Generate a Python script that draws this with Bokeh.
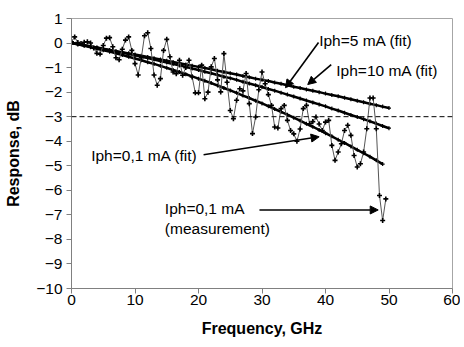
from bokeh.plotting import figure
from bokeh.models import Range1d, FixedTicker, Span, Arrow, NormalHead, Label
from bokeh.embed import file_html
from bokeh.resources import INLINE

# ---- data ----
meas_freq = [i * 0.5 for i in range(100)]  # GHz, 0 .. 49.5
meas_db = [0.05, 0.25, 0.02, -0.02, 0.03, 0.05, 0.0, -0.2, -0.42, -0.45,
           -0.1, 0.2, 0.22, -0.15, -0.6, -0.68, -0.25, 0.12, 0.25, -0.3,
           -0.84, -1.3, -0.6, 0.3, 0.42, -0.22, -1.3, -1.72, -1.45, -0.3,
           0.15, -0.56, -1.18, -1.25, -0.7, -1.31, -1.0, -0.7, -1.38, -2.03,
           -2.03, -0.9, -2.27, -2.0, -0.97, -0.63, -1.5, -1.99, -0.43, -1.6,
           -2.75, -3.08, -2.33, -1.86, -1.95, -1.24, -2.47, -3.69, -3.01, -1.9,
           -1.18, -1.66, -2.1, -2.54, -3.42, -3.46, -2.67, -2.54, -3.15, -3.56,
           -3.7, -4.0, -3.5, -2.67, -2.54, -3.29, -3.2, -3.01, -3.3, -3.56,
           -3.22, -3.15, -4.17, -4.78, -4.44, -4.1, -3.56, -3.35, -3.76, -4.58,
           -5.05, -4.92, -4.44, -3.49, -2.24, -2.24, -3.49, -6.21, -7.23, -6.35]

fit_freq = list(range(51))
fit10_db = [0, -0.05, -0.09, -0.14, -0.18, -0.23, -0.28, -0.33, -0.37, -0.42,
            -0.47, -0.52, -0.57, -0.62, -0.67, -0.72, -0.77, -0.82, -0.87, -0.92,
            -0.97, -1.02, -1.07, -1.13, -1.18, -1.23, -1.28, -1.34, -1.39, -1.45,
            -1.50, -1.55, -1.61, -1.66, -1.72, -1.78, -1.83, -1.89, -1.94, -2.00,
            -2.06, -2.12, -2.17, -2.23, -2.29, -2.35, -2.41, -2.47, -2.53, -2.59, -2.65]
fit5_db = [0, -0.05, -0.09, -0.14, -0.19, -0.24, -0.29, -0.34, -0.39, -0.45,
           -0.50, -0.56, -0.61, -0.67, -0.73, -0.79, -0.85, -0.91, -0.97, -1.04,
           -1.10, -1.17, -1.23, -1.30, -1.37, -1.43, -1.50, -1.58, -1.65, -1.72,
           -1.79, -1.87, -1.94, -2.02, -2.10, -2.18, -2.26, -2.34, -2.42, -2.50,
           -2.58, -2.67, -2.75, -2.84, -2.93, -3.01, -3.10, -3.19, -3.28, -3.38, -3.47]
fit01_freq = list(range(50))
fit01_db = [0, -0.05, -0.11, -0.17, -0.23, -0.29, -0.35, -0.42, -0.49, -0.56,
            -0.63, -0.70, -0.78, -0.85, -0.93, -1.01, -1.10, -1.18, -1.27, -1.36,
            -1.45, -1.54, -1.63, -1.73, -1.83, -1.93, -2.03, -2.14, -2.24, -2.35,
            -2.46, -2.57, -2.69, -2.80, -2.92, -3.04, -3.16, -3.29, -3.41, -3.54,
            -3.67, -3.80, -3.94, -4.07, -4.21, -4.35, -4.49, -4.63, -4.78, -4.93]

x_ticks = [0, 10, 20, 30, 40, 50, 60]
y_ticks = [1, 0, -1, -2, -3, -4, -5, -6, -7, -8, -9, -10]
threshold_db = -3

FONT = "Liberation Sans"

p = figure(width=460, height=343, output_backend="svg", toolbar_location=None,
           x_range=Range1d(0, 60), y_range=Range1d(-10, 1),
           min_border_left=71, min_border_right=8, min_border_top=18, min_border_bottom=55)
p.background_fill_color = "white"
p.border_fill_color = "white"
p.outline_line_color = "#a6a6a6"
p.xgrid.visible = False
p.ygrid.visible = False

for ax in (p.xaxis[0], p.yaxis[0]):
    ax.axis_line_color = "#808080"
    ax.major_tick_line_color = "#808080"
    ax.minor_tick_line_color = None
    ax.major_tick_in = 0
    ax.major_tick_out = 5
    ax.major_label_text_font = FONT
    ax.major_label_text_font_size = "15.5px"
    ax.major_label_text_color = "black"
    ax.axis_label_text_font = FONT
    ax.axis_label_text_font_size = "16px"
    ax.axis_label_text_font_style = "bold"
    ax.axis_label_text_color = "black"

p.xaxis.ticker = FixedTicker(ticks=x_ticks)
p.yaxis.ticker = FixedTicker(ticks=y_ticks)
p.xaxis.axis_label = "Frequency, GHz"
p.yaxis.axis_label = "Response, dB"
p.xaxis.major_label_standoff = 1
p.yaxis.major_label_standoff = 4
p.xaxis.axis_label_standoff = 12
p.yaxis.axis_label_standoff = 11

p.add_layout(Span(location=threshold_db, dimension="width", line_color="black",
                  line_width=1, line_dash="5 3"))

# fits
for fx, fy in ((fit_freq, fit10_db), (fit_freq, fit5_db), (fit01_freq, fit01_db)):
    p.line(fx, fy, line_color="black", line_width=2.5)
    p.scatter(fx, fy, marker="cross", size=4, line_color="black", line_width=1.2)

# measurement
p.line(meas_freq, meas_db, line_color="#555555", line_width=1)
p.scatter(meas_freq, meas_db, marker="cross", size=5, line_color="black", line_width=1.6)

def lab(x, y, t):
    p.add_layout(Label(x=x, y=y, text=t, text_font=FONT, text_font_size="15.5px",
                       text_color="black", text_baseline="middle", text_align="left"))

def arr(x0, y0, x1, y1):
    p.add_layout(Arrow(x_start=x0, y_start=y0, x_end=x1, y_end=y1,
                       line_color="black", line_width=1.6,
                       end=NormalHead(size=8, fill_color="black", line_color="black")))

lab(39.0, 0.1, "Iph=5 mA (fit)")
lab(41.7, -1.12, "Iph=10 mA (fit)")
lab(3.1, -4.59, "Iph=0,1 mA (fit)")
lab(14.7, -6.76, "Iph=0,1 mA")
lab(14.7, -7.57, "(measurement)")

arr(38.9, 0.02, 33.7, -1.82)
arr(40.9, -0.88, 37.2, -1.69)
arr(20.8, -4.55, 39.0, -3.82)
arr(29.6, -6.80, 48.3, -6.80)

open("out.html", "w").write(file_html(p, INLINE))
